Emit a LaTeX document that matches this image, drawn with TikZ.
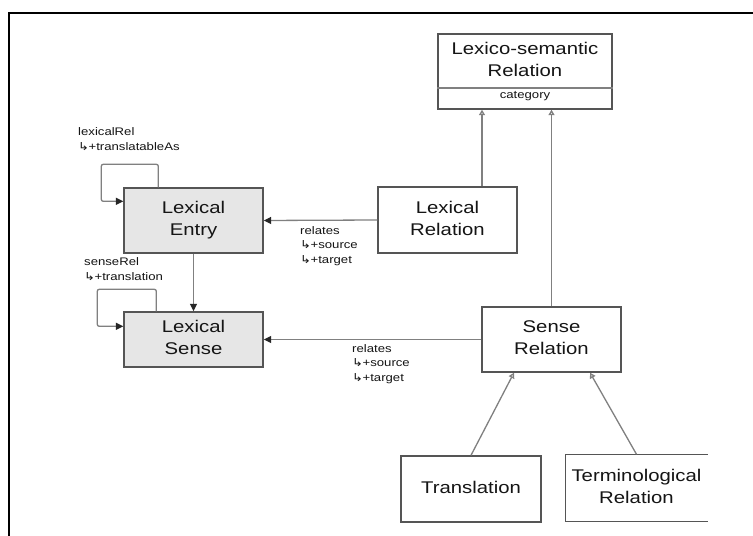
\documentclass[tikz,border=0pt]{standalone}
\usepackage{fontspec}
\setmainfont{Liberation Sans}
\newfontfamily\djv{DejaVu Sans}
\usepackage{graphicx}
\usetikzlibrary{arrows.meta}
\definecolor{boxline}{HTML}{555555}
\definecolor{lncol}{HTML}{808080}
\definecolor{boxfill}{HTML}{E6E6E6}
\definecolor{txt}{HTML}{151515}
\newcommand{\bigf}{\fontsize{17}{22}\selectfont}
\newcommand{\smallf}{\fontsize{11}{15}\selectfont}
\newcommand{\wtxt}[1]{\scalebox{1.2}[1]{\begin{tabular}{@{}c@{}}#1\end{tabular}}}
\newcommand{\wlab}[1]{\scalebox{1.2}[1]{\begin{tabular}{@{}l@{}}#1\end{tabular}}}
\newcommand{\hk}{{\djv\fontsize{11}{15}\selectfont ↳}\kern-0.5pt+}
\begin{document}
\begin{tikzpicture}[x=1bp,y=-1bp,
  box/.style={draw=boxline, line width=1.4bp, minimum width=139bp, minimum height=65bp, inner sep=0pt, font=\bigf, text=txt},
  greybox/.style={box, fill=boxfill},
  conn/.style={draw=lncol, line width=1.3bp},
  rel/.style={conn, -{Triangle[length=7.5bp,width=7bp,color=black!85,fill=black!85]}},
  gen/.style={conn, -{Triangle[open,length=5.5bp,width=6bp,fill=white,color=lncol]}},
  lab/.style={font=\smallf, text=txt, inner sep=0pt, anchor=west}]
\useasboundingbox (0,0) rectangle (753,536);
\fill[white] (0,0) rectangle (753,536);
% frame
\draw[line width=2.6bp, black] (9,540) -- (9,13) -- (760,13);

% Lexico-semantic Relation
\node[box, minimum width=174bp, minimum height=75bp] (lsr) at (525,71.5) {};
\draw[draw=lncol, line width=1.3bp] (lsr.west |- 0,88) -- (lsr.east |- 0,88);
\node[font=\bigf, text=txt, inner sep=0pt] (lsrt) at (525,61) {\wtxt{Lexico-semantic\\Relation}};
\node[font=\smallf, text=txt, inner sep=0pt] (lsrc) at (525,96.5) {\scalebox{1.2}[1]{category}};

% boxes
\node[box, minimum height=66bp] (lr) at (447.5,220) {\wtxt{Lexical\\Relation}};
\node[box] (sr) at (551.5,339.5) {\wtxt{Sense\\Relation}};
\node[greybox] (le) at (193.5,220.5) {\wtxt{Lexical\\Entry}};
\node[greybox, minimum height=55bp] (ls) at (193.5,339.5) {\wtxt{Lexical\\Sense}};
\node[box, minimum width=140bp, minimum height=66bp] (tr) at (471,489) {\wtxt{Translation}};
\node[box, draw=none, minimum width=141bp, minimum height=66bp] (tm) at (636.5,488) {\wtxt{Terminological\\Relation}};
\draw[draw=boxline, line width=1.4bp] (tm.north east) -- (tm.north west) -- (tm.south west) -- (tm.south east);

% associations
\draw[rel] (lr.west) -- (le.east);
\draw[rel] (sr.west) -- (ls.east);
\draw[rel] (le.south) -- (ls.north);
\draw[rel, rounded corners=2bp] ([xshift=35bp]le.north west) -- ++(0,-23) -- ++(-57,0) -- ++(0,37) -- ++(22,0);
\draw[rel, rounded corners=2bp] ([xshift=33bp]ls.north west) -- ++(0,-22) -- ++(-59,0) -- ++(0,37) -- ++(26,0);

% generalisations
\coordinate (g1) at (482,0);
\coordinate (g2) at (514,0);
\coordinate (g3) at (590,0);
\draw[gen] (lr.north -| g1) -- (lsr.south -| g1);
\draw[gen] (sr.north) -- (sr.north |- lsr.south);
\draw[gen] (tr.north) -- (sr.south -| g2);
\draw[gen] (tm.north) -- (sr.south -| g3);

% labels
\node[lab] (l1) at (78,140) {\wlab{lexicalRel\\\hk translatableAs}};
\node[lab] (l2) at (84,270) {\wlab{senseRel\\\hk translation}};
\node[lab] (l3) at (300,246) {\wlab{relates\\\hk source\\\hk target}};
\node[lab] (l4) at (352,364) {\wlab{relates\\\hk source\\\hk target}};
\end{tikzpicture}
\end{document}
